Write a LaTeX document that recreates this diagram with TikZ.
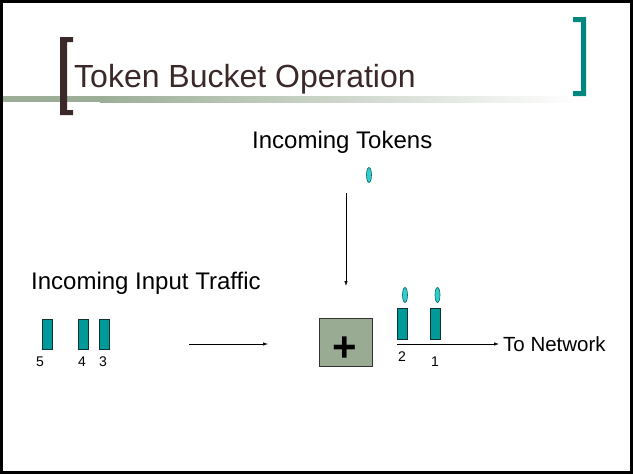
\documentclass[tikz,border=0pt]{standalone}
\usepackage{fontspec}
\setmainfont{Liberation Sans}
\usepackage{xcolor}
\usepackage{tikz}
\usetikzlibrary{shapes,arrows,positioning,calc,arrows.meta}

\definecolor{titlebrown}{HTML}{3B2828}
\definecolor{bracketteal}{HTML}{00877F}
\definecolor{rulegreen}{HTML}{9CAD97}
\definecolor{packetfill}{HTML}{009999}
\definecolor{packetedge}{HTML}{0F3333}
\definecolor{tokenfill}{HTML}{33CCCC}
\definecolor{tokenedge}{HTML}{006666}
\definecolor{adderfill}{HTML}{9AAB93}

\begin{document}
\begin{tikzpicture}[x=1pt, y=-1pt,
    packet/.style={draw=packetedge, fill=packetfill, line width=0.8pt, minimum width=10pt, minimum height=30pt, inner sep=0pt},
    token/.style={ellipse, draw=tokenedge, fill=tokenfill, line width=0.6pt, minimum width=5pt, minimum height=15pt, inner sep=0pt},
    num/.style={font=\fontsize{14}{16}\selectfont, inner sep=0pt},
    label/.style={font=\fontsize{24}{28}\selectfont, inner sep=0pt, anchor=base west},
    flow/.style={-{Latex[length=5pt,width=3.5pt]}, line width=0.7pt}]
    \useasboundingbox (0,0) rectangle (633,474);

    % slide frame
    \draw[line width=3pt] (1.5,1.5) rectangle (631.5,472.5);

    % title rule
    \fill[rulegreen] (3,96) rectangle (100,102);
    \shade[left color=rulegreen, right color=white] (100,96) rectangle (580,102);

    % brackets
    \fill[titlebrown] (60,37) -- (73,37) -- (73,42) -- (67,42) -- (67,110) -- (73,110) -- (73,115) -- (60,115) -- cycle;
    \fill[bracketteal] (586,17) -- (573,17) -- (573,22) -- (581,22) -- (581,91) -- (573,91) -- (573,96) -- (586,96) -- cycle;

    \node[anchor=base west, inner sep=0pt, text=titlebrown, font=\fontsize{32}{38}\selectfont] (title) at (74,87) {Token Bucket Operation};

    % tokens coming in
    \node[label] (tokentext) at (252,148) {Incoming Tokens};
    \node[token] (tok) at (369,175) {};
    \coordinate (tokstart) at (346,193);
    \coordinate (tokend) at (346,286);
    \draw[flow] (tokstart) -- (tokend);

    % input traffic
    \node[label] (traffictext) at (31,289) {Incoming Input Traffic};
    \node[packet] (p5) at (47,334) {};
    \node[packet] (p4) at (83,334) {};
    \node[packet] (p3) at (104,334) {};
    \node[num] (n5) at (40,362) {5};
    \node[num] (n4) at (82,362) {4};
    \node[num] (n3) at (103,362) {3};
    \coordinate (instart) at (189,344);
    \coordinate (inend) at (268,344);
    \draw[flow] (instart) -- (inend);

    % bucket
    \node[draw=black!80, fill=adderfill, line width=0.8pt, minimum width=53pt, minimum height=48pt] (adder) at (345.5,342) {};
    \node[font=\fontsize{42}{46}\bfseries, inner sep=0pt] (plus) at (345,349) {+};

    % output traffic
    \node[packet, minimum height=31pt] (p2) at (402,323.5) {};
    \node[packet, minimum height=31pt] (p1) at (435,323.5) {};
    \node[token] (t2) at (405,295) {};
    \node[token] (t1) at (437.5,295) {};
    \node[num] (n2) at (402,357) {2};
    \node[num] (n1) at (435,362) {1};
    \coordinate (outstart) at (397,344);
    \node[anchor=west, inner sep=0pt, font=\fontsize{20.5}{24}\selectfont] (net) at (503,344) {To Network};
    \draw[flow] (outstart) -- ([xshift=-4pt]net.west);
\end{tikzpicture}
\end{document}
